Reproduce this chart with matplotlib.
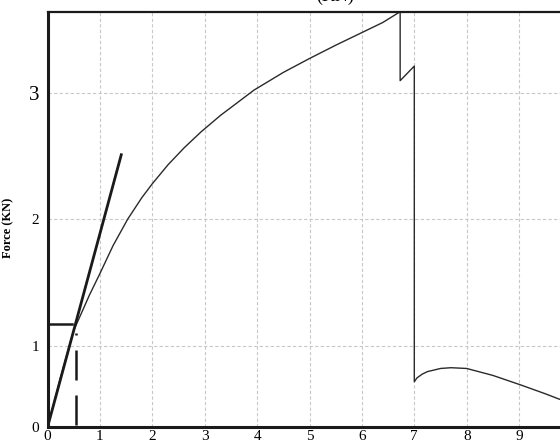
import matplotlib
matplotlib.use("Agg")
import matplotlib.pyplot as plt

plt.rcParams["font.family"] = ["Liberation Serif", "DejaVu Serif"]

# axis floor (the value drawn at the "0" label) and top of the plot
Y_FLOOR = 0.355
Y_TOP = 3.64

# measured force curve (x = extension, y = force in KN)
curve_x = [0.0, 0.25, 0.5, 0.65, 0.8, 1.0, 1.25, 1.53, 1.8, 2.0, 2.3, 2.61, 2.93, 3.3,
           3.94, 4.5, 5.0, 5.5, 6.0, 6.4, 6.73,
           6.73, 7.0,
           7.0, 7.05, 7.15, 7.25, 7.5, 7.7, 8.0, 8.5, 9.03, 9.5, 9.75, 10.0]
curve_y = [0.355, 0.75, 1.12, 1.26, 1.40, 1.57, 1.79, 2.00, 2.17, 2.28, 2.43, 2.565, 2.69, 2.82,
           3.02, 3.16, 3.27, 3.375, 3.475, 3.555, 3.64,
           3.095, 3.21,
           0.715, 0.745, 0.775, 0.795, 0.82, 0.826, 0.82, 0.765, 0.69, 0.62, 0.58, 0.545]

# initial tangent line
tangent_x = [0.0, 1.415]
tangent_y = [0.355, 2.52]

# marker lines at the yield point
yield_h_x = [0.0, 0.47]
yield_h_y = [1.17, 1.17]
yield_v_x = [0.55, 0.55]
yield_v_y = [0.375, 1.10]

xticks = list(range(0, 10))
yticks = [Y_FLOOR, 1, 2, 3]
ytick_labels = ["0", "1", "2", "3"]

fig = plt.figure(figsize=(5.6, 4.45), dpi=100)
ax = fig.add_axes([47.5 / 560, 17.7 / 445, 524 / 560, 415.6 / 445])

ax.plot(curve_x, curve_y, color="#2a2a2a", lw=1.0)
ax.plot(tangent_x, tangent_y, color="#1a1a1a", lw=2.0, solid_capstyle="butt")
ax.plot(yield_h_x, yield_h_y, color="#1a1a1a", lw=1.8)
ax.plot(yield_v_x, yield_v_y, color="#1a1a1a", lw=1.8, dashes=(12, 6))

ax.set_xlim(0, 10)
ax.set_ylim(Y_FLOOR, Y_TOP)
ax.set_xticks(xticks)
ax.set_yticks(yticks)
ax.set_yticklabels(ytick_labels)
ax.tick_params(axis="x", length=0, labelsize=11, pad=2)
ax.tick_params(axis="y", length=0, labelsize=11, pad=6)
ax.get_yticklabels()[-1].set_fontsize(15)

ax.grid(True, color="#c8c8c8", ls=(0, (3, 2)), lw=0.8)
ax.set_axisbelow(True)

for side in ["left", "bottom"]:
    ax.spines[side].set_linewidth(2.2)
    ax.spines[side].set_color("#1a1a1a")
ax.spines["top"].set_linewidth(1.6)
ax.spines["top"].set_color("#1a1a1a")
ax.spines["right"].set_visible(False)

ax.set_ylabel("Force (KN)", fontsize=9, fontweight="bold")
ax.yaxis.set_label_coords(-0.064, 0.48)

# title sits above the frame and is cut off by the figure edge
fig.text(335 / 560, 1 - 1 / 445, "(KN)", fontsize=13, ha="center", va="baseline")

fig.savefig("out.png", dpi=100)
